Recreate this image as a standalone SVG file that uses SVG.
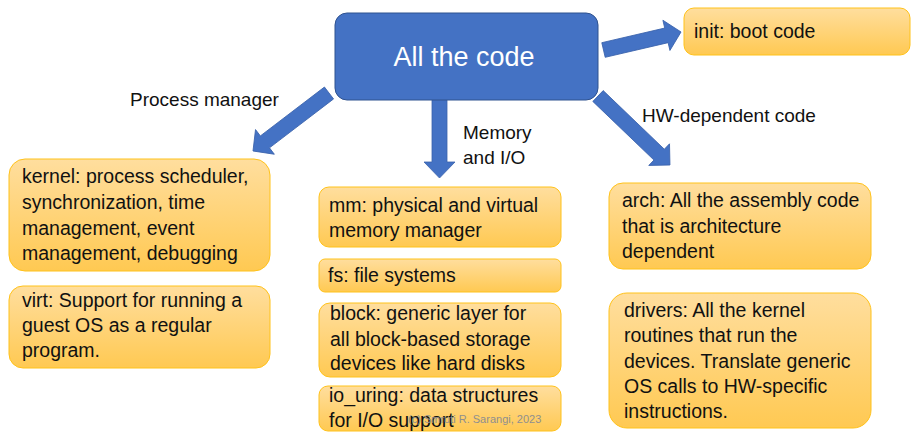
<svg xmlns="http://www.w3.org/2000/svg" width="917" height="432" viewBox="0 0 917 432">
<defs>
<linearGradient id="og" x1="0" y1="0" x2="0" y2="1">
<stop offset="0" stop-color="#FFDE9E"/>
<stop offset="1" stop-color="#FFC952"/>
</linearGradient>
<style>
.box{fill:url(#og);stroke:#FFC21A;stroke-width:1}
.t{font-family:"Liberation Sans",Arial,sans-serif;font-size:19.5px;fill:#111}
.lbl{font-family:"Liberation Sans",Arial,sans-serif;font-size:19px;fill:#111}
.arr{fill:#4472C4;stroke:#3A62AC;stroke-width:0.8}
.wm{font-family:"Liberation Sans",Arial,sans-serif;font-size:11px;fill:#8F8F8F}
</style>
</defs>
<rect width="917" height="432" fill="#fff"/>
<g id="connectors">
<polygon class="arr" transform="translate(603.5,50) rotate(-13.1)" points="0,-7.5 64.6,-7.5 64.6,-15.5 79.6,0 64.6,15.5 64.6,7.5 0,7.5"/>
<polygon class="arr" transform="translate(598,96) rotate(43.8)" points="0,-7.5 84.7,-7.5 84.7,-15 99.7,0 84.7,15 84.7,7.5 0,7.5"/>
<polygon class="arr" transform="translate(329,93) rotate(142.65)" points="0,-7.5 80.6,-7.5 80.6,-15.5 95.6,0 80.6,15.5 80.6,7.5 0,7.5"/>
<polygon class="arr" transform="translate(439.5,98) rotate(90)" points="0,-7.5 64,-7.5 64,-15.5 80,0 64,15.5 64,7.5 0,7.5"/>
<text class="lbl" x="130" y="106">Process manager</text>
<text class="lbl" x="463" y="139">Memory</text>
<text class="lbl" x="463" y="164">and I/O</text>
<text class="lbl" x="642" y="122">HW-dependent code</text>
</g>
<g id="all">
<rect x="335" y="13" width="263" height="87" rx="12" fill="#4472C4" stroke="#2F528F" stroke-width="1"/>
<text x="464" y="65.5" text-anchor="middle" font-family="Liberation Sans, Arial, sans-serif" font-size="27" fill="#fff">All the code</text>
</g>
<g id="init">
<rect class="box" x="684" y="8" width="226" height="47" rx="10"/>
<text class="t" x="694" y="38">init: boot code</text>
</g>
<g id="kernel">
<rect class="box" x="9" y="159" width="261" height="112" rx="16"/>
<text class="t" x="22"><tspan x="22" y="183">kernel: process scheduler,</tspan><tspan x="22" y="209">synchronization, time</tspan><tspan x="22" y="235">management, event</tspan><tspan x="22" y="260">management, debugging</tspan></text>
</g>
<g id="virt">
<rect class="box" x="9" y="286" width="261" height="82" rx="14"/>
<text class="t"><tspan x="22" y="307">virt: Support for running a</tspan><tspan x="22" y="332">guest OS as a regular</tspan><tspan x="22" y="357">program.</tspan></text>
</g>
<g id="mm">
<rect class="box" x="319" y="187" width="242" height="60" rx="10"/>
<text class="t"><tspan x="329" y="212">mm: physical and virtual</tspan><tspan x="329" y="237">memory manager</tspan></text>
</g>
<g id="fs">
<rect class="box" x="319" y="259" width="242" height="33" rx="6"/>
<text class="t" x="328" y="282">fs: file systems</text>
</g>
<g id="block">
<rect class="box" x="319" y="303" width="242" height="74" rx="11"/>
<text class="t"><tspan x="330" y="320">block: generic layer for</tspan><tspan x="330" y="346">all block-based storage</tspan><tspan x="330" y="370">devices like hard disks</tspan></text>
</g>
<g id="io_uring">
<rect class="box" x="319" y="386" width="242" height="45" rx="9"/>
<text class="t"><tspan x="329" y="402">io_uring: data structures</tspan><tspan x="329" y="427">for I/O support</tspan></text>
<text class="wm" x="408" y="423">(c) Smruti R. Sarangi, 2023</text>
</g>
<g id="arch">
<rect class="box" x="609" y="183" width="262" height="86" rx="14"/>
<text class="t"><tspan x="622" y="207">arch: All the assembly code</tspan><tspan x="622" y="233">that is architecture</tspan><tspan x="622" y="258">dependent</tspan></text>
</g>
<g id="drivers">
<rect class="box" x="609" y="293" width="262" height="135" rx="18"/>
<text class="t"><tspan x="624" y="317">drivers: All the kernel</tspan><tspan x="624" y="342">routines that run the</tspan><tspan x="624" y="368">devices. Translate generic</tspan><tspan x="624" y="393">OS calls to HW-specific</tspan><tspan x="624" y="418">instructions.</tspan></text>
</g>
</svg>
